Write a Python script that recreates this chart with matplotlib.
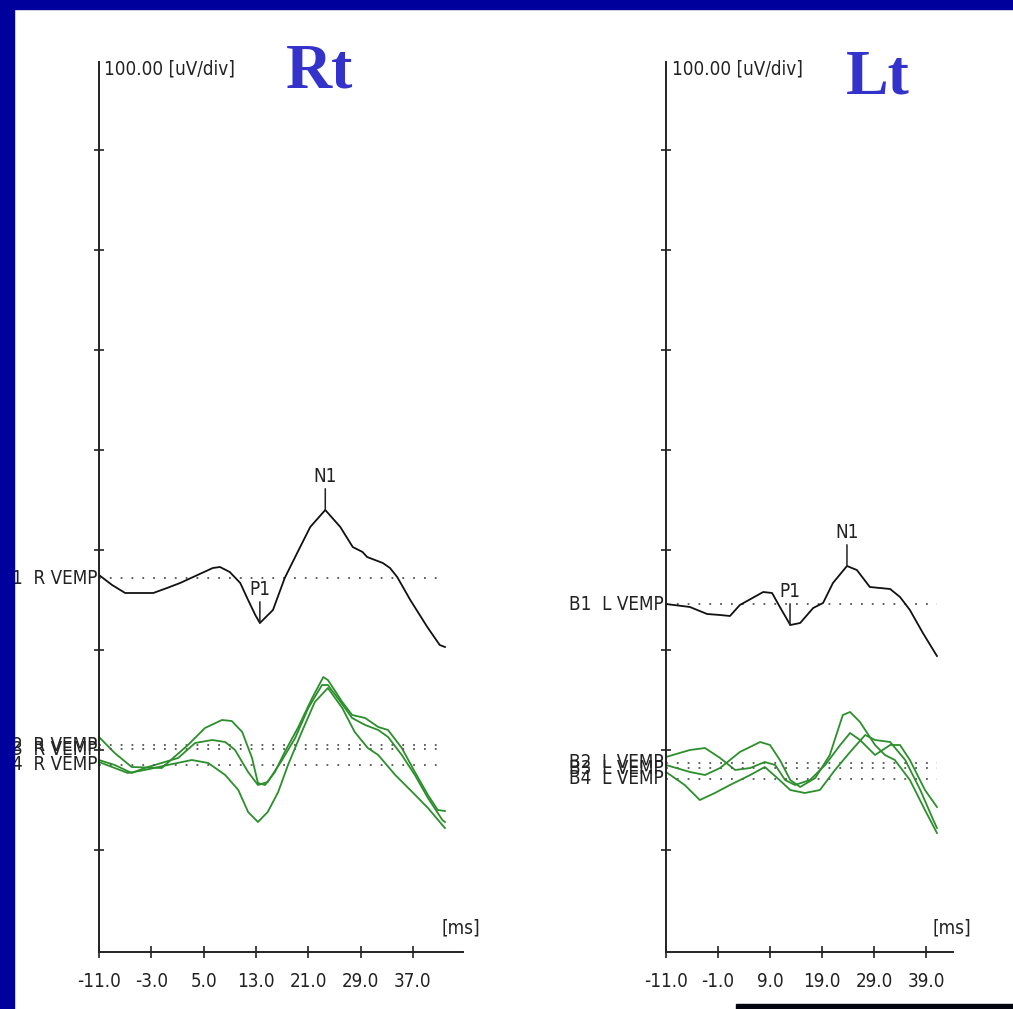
import matplotlib
matplotlib.use("Agg")
import matplotlib.pyplot as plt
from matplotlib.patches import Rectangle

W, H, DPI = 1013, 1009, 100

# ---------------- data (latency ms, amplitude uV) ----------------
UV_PER_DIV = 100.0

# Right side (Rt)
RT_CH1_MS = [-11.0, -9.0, -7.0, -2.7, -0.6, 1.4, 3.4, 6.4, 7.5, 9.0, 10.6, 11.8, 12.9, 13.6,
             15.6, 17.4, 19.3, 21.3, 23.6, 25.9, 27.8, 29.3, 30.0, 32.4, 33.5, 34.6, 36.6, 39.2, 41.1, 41.9]
RT_CH1_UV = [3, -7, -15, -15, -10, -5, 1, 10, 11, 6, -5, -22, -37, -45,
             -32, 0, 25, 51, 68, 51, 31, 26, 21, 15, 10, 1, -22, -49, -67, -69]

RT_CH2_MS = [-11.0, -8.6, -6.0, -1.4, 2.6, 5.2, 7.8, 9.3, 10.9, 12.4, 13.3, 14.4, 15.9, 17.4,
             19.4, 21.6, 23.3, 24.0, 26.2, 27.7, 29.7, 31.7, 33.2, 35.3, 37.3, 39.3, 40.8, 41.9]
RT_CH2_UV = [8, -8, -22, -23, 0, 17, 25, 24, 13, -13, -38, -40, -27, -7,
             17, 47, 68, 65, 43, 30, 27, 18, 15, -3, -27, -50, -65, -66]

RT_CH3_MS = [-11.0, -8.6, -6.0, -4.0, 1.1, 3.7, 6.3, 8.3, 9.8, 11.8, 13.3, 14.8, 17.0, 19.0,
             21.0, 23.1, 24.0, 25.5, 27.7, 29.7, 31.7, 33.2, 35.3, 37.3, 39.3, 41.5, 41.9]
RT_CH3_UV = [-11, -16, -24, -19, -9, 6, 9, 7, -1, -23, -36, -33, -11, 11,
             41, 64, 64, 51, 31, 24, 19, 12, -6, -26, -49, -71, -73]

RT_CH4_MS = [-11.0, -8.6, -6.6, -4.0, -0.5, 3.2, 5.7, 8.3, 10.3, 11.8, 13.3, 14.8, 16.4, 17.9,
             20.0, 22.0, 24.0, 26.2, 28.1, 30.1, 31.7, 34.3, 36.9, 39.3, 41.5, 41.9]
RT_CH4_UV = [3, -3, -8, -5, 0, 5, 2, -10, -25, -47, -57, -47, -27, 0,
             33, 63, 77, 57, 33, 17, 10, -10, -27, -43, -60, -63]

# Left side (Lt)
LT_CH1_MS = [-11.0, -6.4, -3.1, -0.6, 1.3, 3.2, 7.7, 9.4, 10.9, 12.9, 14.8, 17.3, 19.2, 21.1,
             23.8, 25.7, 28.2, 32.1, 34.0, 35.9, 38.4, 41.1]
LT_CH1_UV = [0, -3, -10, -11, -12, -1, 12, 11, -3, -21, -19, -4, 1, 21,
             38, 34, 17, 15, 7, -6, -29, -52]

LT_CH2_MS = [-11.0, -6.4, -3.5, -0.6, 2.3, 5.2, 8.0, 10.0, 11.9, 13.8, 16.7, 19.6, 22.5, 24.4,
             26.3, 29.2, 32.1, 34.0, 35.9, 38.8, 41.1]
LT_CH2_UV = [6, 13, 15, 5, -7, -5, 1, -2, -17, -22, -17, -2, 18, 30,
             23, 8, 18, 18, 3, -27, -44]

LT_CH3_MS = [-11.0, -6.4, -3.5, -0.6, 3.2, 7.1, 9.0, 10.9, 12.9, 14.8, 17.7, 20.5, 23.0, 24.4,
             26.3, 29.2, 31.1, 33.0, 35.9, 38.8, 41.1]
LT_CH3_UV = [3, -4, -7, 0, 16, 26, 23, 8, -12, -19, -10, 13, 53, 56,
             46, 23, 13, 8, -12, -42, -65]

LT_CH4_MS = [-11.0, -7.4, -4.5, -1.6, 1.3, 5.2, 8.0, 10.4, 12.9, 15.7, 18.6, 21.5, 24.4, 27.3,
             29.2, 32.1, 35.0, 37.9, 40.4, 41.1]
LT_CH4_UV = [7, -6, -21, -14, -6, 4, 12, 1, -11, -14, -11, 9, 27, 44,
             39, 37, 19, -11, -41, -49]

RT_LABELS = ["1  R VEMP", "2  R VEMP", "3  R VEMP", "4  R VEMP"]
LT_LABELS = ["B1  L VEMP", "B2  L VEMP", "B3  L VEMP", "B4  L VEMP"]
RT_XTICKS = [-11.0, -3.0, 5.0, 13.0, 21.0, 29.0, 37.0]
LT_XTICKS = [-11.0, -1.0, 9.0, 19.0, 29.0, 39.0]
RT_PEAKS = [("P1", 13.6, -45), ("N1", 23.6, 68)]
LT_PEAKS = [("P1", 12.85, -21), ("N1", 23.8, 38)]

# baselines (divisions above the x axis)
RT_BASE = [3.72, 2.05, 2.01, 1.85]
LT_BASE = [3.46, 1.87, 1.82, 1.71]

# ---------------- drawing ----------------
NARROW = dict(family=["DejaVu Sans"], stretch="condensed")
FS = 13.5
AX_COL = "#222222"
GREEN = "#2b8f2b"

fig = plt.figure(figsize=(W / DPI, H / DPI), dpi=DPI)
fig.patch.set_facecolor("white")


def panel(x0px, x1px, xmax, xticks, traces, bases, labels, peaks, title, title_xy, unit_x, ms_x):
    ax = fig.add_axes([x0px / W, 1 - 952 / H, (x1px - x0px) / W, (952 - 62) / H])
    ax.set_xlim(-11.0, xmax)
    ax.set_ylim(-0.02, 8.88)
    ax.set_facecolor("none")
    for s in ("top", "right"):
        ax.spines[s].set_visible(False)
    for s in ("left", "bottom"):
        ax.spines[s].set_color(AX_COL)
        ax.spines[s].set_linewidth(1.4)
    ax.set_yticks(range(1, 9))
    ax.tick_params(axis="y", direction="inout", length=7, width=1.2, color=AX_COL, labelleft=False)
    ax.set_xticks(xticks)
    ax.set_xticklabels([f"{v:.1f}" for v in xticks], fontsize=FS, color="#222222", **NARROW)
    ax.tick_params(axis="x", direction="inout", length=9, width=1.2, color=AX_COL, pad=10)

    for i, ((ms, uv), b, lab) in enumerate(zip(traces, bases, labels)):
        ys = [b + v / UV_PER_DIV for v in uv]
        col = "#111111" if i == 0 else GREEN
        ax.plot([-11.0, max(ms)], [b, b], ls=(0, (1, 5)), color="#555555", lw=1.3, clip_on=False)
        ax.plot(ms, ys, color=col, lw=1.3, solid_joinstyle="round", clip_on=False)
        ax.annotate(lab, xy=(-11.0, b), xytext=(-2, 0), textcoords="offset pixels",
                    ha="right", va="center", fontsize=FS, color="#222222",
                    annotation_clip=False, **NARROW)

    b0 = bases[0]
    for name, t, v in peaks:
        ax.annotate(name, xy=(t, b0 + v / UV_PER_DIV), xytext=(0, 24), textcoords="offset pixels",
                    ha="center", va="bottom", fontsize=FS, color="#222222",
                    arrowprops=dict(arrowstyle="-", lw=1.1, color="#222222", shrinkA=0, shrinkB=0),
                    **NARROW)

    fig.text(unit_x / W, 1 - 69 / H, "100.00 [uV/div]", ha="left", va="center",
             fontsize=FS, color="#222222", **NARROW)
    fig.text(ms_x / W, 1 - 928 / H, "[ms]", ha="center", va="center",
             fontsize=FS, color="#222222", **NARROW)
    fig.text(title_xy[0] / W, 1 - title_xy[1] / H, title, ha="center", va="baseline",
             family=["Liberation Serif", "DejaVu Serif"], fontweight="bold", fontsize=46,
             color="#3333cc")
    return ax


panel(99, 463, 44.66, RT_XTICKS,
      [(RT_CH1_MS, RT_CH1_UV), (RT_CH2_MS, RT_CH2_UV), (RT_CH3_MS, RT_CH3_UV), (RT_CH4_MS, RT_CH4_UV)],
      RT_BASE, RT_LABELS, RT_PEAKS, "Rt", (320, 87), 104, 461)
panel(666, 953, 44.19, LT_XTICKS,
      [(LT_CH1_MS, LT_CH1_UV), (LT_CH2_MS, LT_CH2_UV), (LT_CH3_MS, LT_CH3_UV), (LT_CH4_MS, LT_CH4_UV)],
      LT_BASE, LT_LABELS, LT_PEAKS, "Lt", (878, 93), 672, 952)

# slide frame
fig.patches.append(Rectangle((0, 1 - 9 / H), 1, 9 / H, transform=fig.transFigure,
                             color="#00009c", zorder=5))
fig.patches.append(Rectangle((0, 0), 14 / W, 1, transform=fig.transFigure,
                             color="#00009c", zorder=5))
fig.patches.append(Rectangle((736 / W, 0), (W - 736) / W, 5 / H, transform=fig.transFigure,
                             color="#050510", zorder=5))

fig.savefig("out.png", dpi=DPI, facecolor="white")
